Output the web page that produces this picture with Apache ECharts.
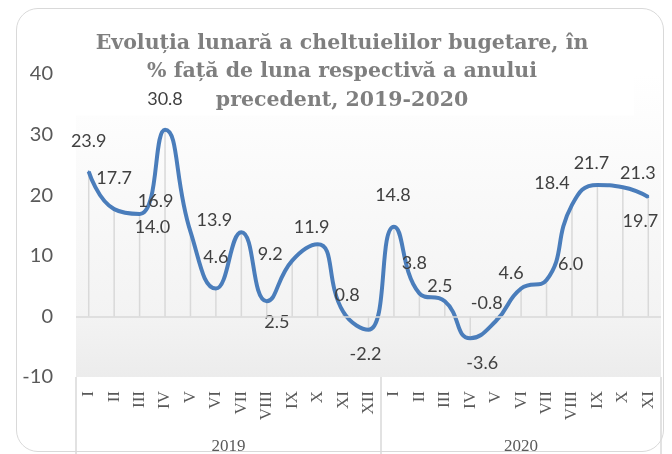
<!DOCTYPE html>
<html>
<head>
<meta charset="utf-8">
<script src="https://cdn.jsdelivr.net/npm/echarts@6/dist/echarts.min.js"></script>
<style>
    html, body { margin: 0; padding: 0; background: #fff; }
    #wrap { position: relative; width: 672px; height: 454px; overflow: hidden; }
    #main { width: 672px; height: 454px; }
    #frame {
        position: absolute; left: 16px; top: 8px; width: 646px; height: 442px;
        border: 1.5px solid #d9d9d9; border-radius: 22px; pointer-events: none;
    }
</style>
</head>
<body>
<div id="wrap">
    <div id="main"></div>
    <div id="frame"></div>
</div>
<script>
    // date
    var years = ['2019', '2020'];
    var months2019 = ['I', 'II', 'III', 'IV', 'V', 'VI', 'VII', 'VIII', 'IX', 'X', 'XI', 'XII'];
    var months2020 = ['I', 'II', 'III', 'IV', 'V', 'VI', 'VII', 'VIII', 'IX', 'X', 'XI'];
    var values2019 = [23.9, 17.7, 16.9, 30.8, 14.0, 4.6, 13.9, 2.5, 9.2, 11.9, 0.8, -2.2];
    var values2020 = [14.8, 3.8, 2.5, -3.6, -0.8, 4.6, 6.0, 18.4, 21.7, 21.3, 19.7];
    var yMin = -10, yMax = 40, yStep = 10;

    // deplasarea etichetelor (mutate manual in original)
    var labelShift2019 = [[0, -30], [0, -31], [16, -13], [0, -31], [-38, -4], [0, -31], [-27, -12], [10, 21], [-22, -6], [-6, -17], [4, -16], [-3, 24]];
    var labelShift2020 = [[-1, -32], [-5, -30], [-5, -15], [12, 25], [-9, -18], [-10, -15], [24, -16], [-20, -22], [-6, -22], [15, -14], [-8, 24]];

    var categories = [];
    var values = [];
    var shifts = [];
    months2019.forEach(function (m, i) {
        categories.push(years[0] + '|' + m);
        values.push(values2019[i]);
        shifts.push(labelShift2019[i]);
    });
    months2020.forEach(function (m, i) {
        categories.push(years[1] + '|' + m);
        values.push(values2020[i]);
        shifts.push(labelShift2020[i]);
    });
    var n1 = months2019.length, n = categories.length;

    var lineData = values.map(function (v, i) {
        return { value: v, label: { offset: shifts[i] } };
    });

    var myChart = echarts.init(document.getElementById('main'));
    var option = {
        animation: false,
        title: {
            text: 'Evoluția lunară a cheltuielilor bugetare, în\n% față de luna respectivă a anului\nprecedent, 2019-2020',
            left: 296,
            textAlign: 'center',
            top: 24,
            z: 1,
            backgroundColor: '#ffffff',
            padding: [5, 46, 1, 46],
            textStyle: {
                fontFamily: 'DejaVu Serif',
                fontWeight: 'bold',
                fontSize: 20.5,
                lineHeight: 28.5,
                color: '#7f7f7f'
            }
        },
        grid: {
            left: 76,
            right: 11,
            top: 74,
            bottom: 77,
            outerBoundsMode: 'none',
            show: true,
            borderWidth: 0,
            backgroundColor: {
                type: 'linear', x: 0, y: 0, x2: 0, y2: 1,
                colorStops: [
                    { offset: 0, color: '#ffffff' },
                    { offset: 0.8, color: '#f3f3f3' },
                    { offset: 1, color: '#ececec' }
                ]
            }
        },
        xAxis: [{
            type: 'category',
            data: categories,
            boundaryGap: true,
            axisLine: { show: false },
            axisTick: { show: false },
            axisLabel: {
                interval: 0,
                rotate: 90,
                margin: 14,
                fontFamily: 'Liberation Serif',
                fontSize: 17,
                color: '#595959',
                formatter: function (v) { return v.split('|')[1]; }
            }
        }, {
            type: 'value',
            position: 'bottom',
            min: 0,
            max: n,
            axisLine: { show: false },
            splitLine: { show: false },
            axisTick: {
                show: true,
                customValues: [0, n1, n],
                length: 80,
                lineStyle: { color: '#d9d9d9', width: 1.5 }
            },
            axisLabel: {
                customValues: [n1 / 2, n1 + (n - n1) / 2],
                margin: 61,
                fontFamily: 'Liberation Serif',
                fontSize: 17,
                color: '#595959',
                formatter: function (v) { return v < n1 ? years[0] : years[1]; }
            }
        }],
        yAxis: {
            type: 'value',
            z: 3,
            min: yMin,
            max: yMax,
            interval: yStep,
            axisLine: { show: false },
            axisTick: { show: false },
            splitLine: { show: false },
            axisLabel: {
                margin: 23,
                fontFamily: 'Lato',
                fontSize: 20,
                color: '#595959'
            }
        },
        series: [{
            // linii verticale de la punct la axa
            type: 'bar',
            data: values,
            barWidth: 1.5,
            itemStyle: { color: '#d9d9d9' },
            silent: true,
            markLine: {
                silent: true,
                symbol: 'none',
                label: { show: false },
                lineStyle: { color: '#d9d9d9', width: 1.5, type: 'solid' },
                data: [{ yAxis: 0 }]
            }
        }, {
            type: 'line',
            data: lineData,
            smooth: 0.5,
            symbol: 'circle',
            symbolSize: 2,
            z: 3,
            lineStyle: { color: '#4a7dbb', width: 4 },
            itemStyle: { color: '#4a7dbb' },
            label: {
                show: true,
                position: 'inside',
                fontFamily: 'Lato',
                fontSize: 18,
                color: '#404040',
                formatter: function (p) { return p.value.toFixed(1); }
            }
        }]
    };
    myChart.setOption(option);
</script>
</body>
</html>
